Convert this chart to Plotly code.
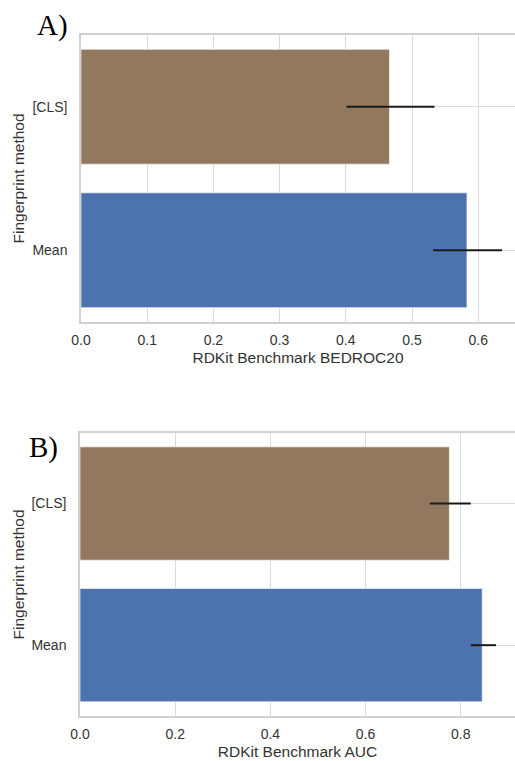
import plotly.graph_objects as go

categories = ["[CLS]", "Mean"]
colors = ["#937860", "#4c72b0"]

bedroc_values = [0.466, 0.583]
bedroc_low = [0.401, 0.532]
bedroc_high = [0.534, 0.636]

auc_values = [0.776, 0.845]
auc_low = [0.735, 0.821]
auc_high = [0.821, 0.874]

bedroc_ticks = [0.0, 0.1, 0.2, 0.3, 0.4, 0.5, 0.6]
auc_ticks = [0.0, 0.2, 0.4, 0.6, 0.8]

W, H = 515, 761
FONT = "Liberation Sans, Arial, sans-serif"
TXT = "#333333"
GRID = "#dadada"

fig = go.Figure()

def add_bars(vals, lo, hi, xa, ya):
    fig.add_trace(go.Bar(
        x=vals, y=categories, orientation="h",
        marker=dict(color=colors, line=dict(color="rgba(255,255,255,0.6)", width=1)),
        width=0.8,
        error_x=dict(type="data", symmetric=False,
                     array=[h - v for h, v in zip(hi, vals)],
                     arrayminus=[v - l for l, v in zip(lo, vals)],
                     color="#1a1a1a", thickness=2, width=0),
        xaxis=xa, yaxis=ya, showlegend=False, hoverinfo="skip",
    ))

add_bars(bedroc_values, bedroc_low, bedroc_high, "x", "y")
add_bars(auc_values, auc_low, auc_high, "x2", "y2")

def py(px):
    return 1 - px / H

common_x = dict(showgrid=True, gridcolor=GRID, gridwidth=1.3, zeroline=False,
                showline=True, linecolor="#d0d0d0", linewidth=1.5, mirror=True,
                ticks="", automargin=False, ticklabelstandoff=4,
                tickfont=dict(size=14, color=TXT, family=FONT),
                title=dict(font=dict(size=15.5, color=TXT, family=FONT), standoff=6))
common_y = dict(showgrid=True, gridcolor=GRID, gridwidth=1.3, zeroline=False,
                showline=True, linecolor="#d0d0d0", linewidth=1.5,
                ticks="", automargin=False, ticklabelstandoff=9,
                tickfont=dict(size=14, color=TXT, family=FONT),
                categoryorder="array", categoryarray=categories, autorange=False)

fig.update_layout(
    width=W, height=H,
    margin=dict(l=0, r=0, t=0, b=0, autoexpand=False),
    paper_bgcolor="white", plot_bgcolor="white",
    bargap=0.2,
    xaxis=dict(domain=[81 / W, 1], anchor="y", range=[0, (515 - 81) / 662.0],
               tickvals=bedroc_ticks, ticktext=[f"{t:.1f}" for t in bedroc_ticks],
               **common_x),
    yaxis=dict(domain=[py(322), py(35)], anchor="x", range=[1.5, -0.5], **common_y),
    xaxis2=dict(domain=[80 / W, 1], anchor="y2", range=[0, (515 - 80) / 476.0],
                tickvals=auc_ticks, ticktext=[f"{t:.1f}" for t in auc_ticks],
                **common_x),
    yaxis2=dict(domain=[py(716), py(432.7)], anchor="x2", range=[1.5, -0.5], **common_y),
)
fig.layout.xaxis.title.text = "RDKit Benchmark BEDROC20"
fig.layout.xaxis2.title.text = "RDKit Benchmark AUC"

def ann(text, x, y, size, family, color, angle=0, xanchor="center", yanchor="middle"):
    fig.add_annotation(text=text, x=x / W, y=py(y), xref="paper", yref="paper",
                       xanchor=xanchor, yanchor=yanchor, showarrow=False, textangle=angle,
                       font=dict(size=size, color=color, family=family))

SERIF = "Liberation Serif, Times New Roman, serif"
ann("A)", 35, 26, 29, SERIF, "black", xanchor="left")
ann("B)", 27, 447, 29, SERIF, "black", xanchor="left")
ann("Fingerprint method", 18, 178.5, 15.5, FONT, TXT, angle=-90)
ann("Fingerprint method", 18, 574.5, 15.5, FONT, TXT, angle=-90)

fig.write_html("out.html")
